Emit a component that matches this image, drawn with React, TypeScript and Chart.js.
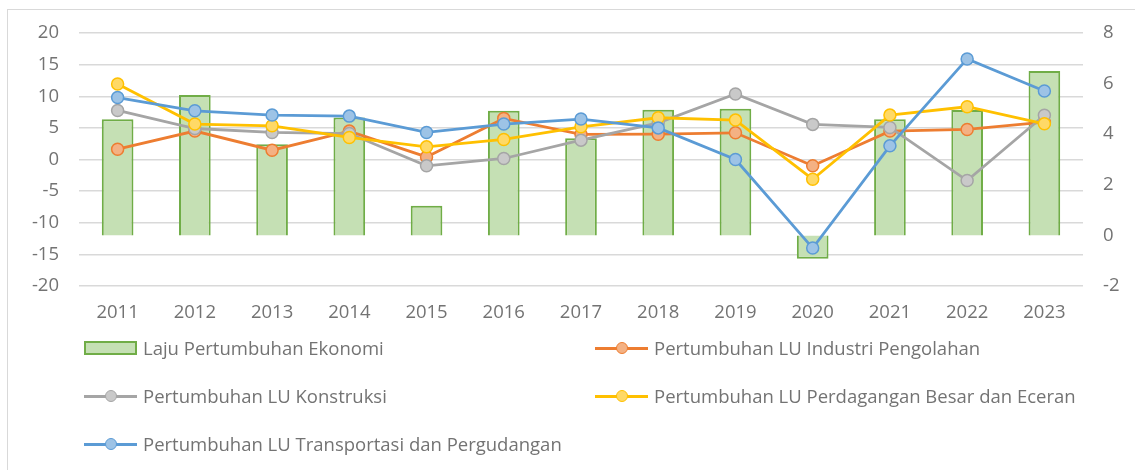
import React, { useEffect, useRef } from "react";
import { Chart, registerables } from "chart.js";

Chart.register(...registerables);

const years = ["2011", "2012", "2013", "2014", "2015", "2016", "2017", "2018", "2019", "2020", "2021", "2022", "2023"];
const ekonomi = [4.59, 5.55, 3.6, 4.66, 1.17, 4.93, 3.84, 4.97, 5.01, -0.92, 4.59, 4.96, 6.5];
const industri = [1.63, 4.5, 1.47, 4.49, 0.41, 6.5, 3.96, 4.0, 4.22, -1.0, 4.49, 4.75, 5.9];
const konstruksi = [7.76, 4.9, 4.28, 4.1, -1.0, 0.16, 3.06, 5.8, 10.35, 5.55, 5.07, -3.33, 7.0];
const perdagangan = [11.93, 5.6, 5.33, 3.49, 2.0, 3.17, 5.17, 6.6, 6.23, -3.12, 7.02, 8.34, 5.65];
const transportasi = [9.8, 7.7, 7.02, 6.86, 4.28, 5.6, 6.39, 5.0, 0.0, -14.0, 2.16, 15.9, 10.82];

const leftTicks = { min: -20, max: 20, step: 5 };
const rightTicks = { min: -2, max: 8, step: 2 };

const FONT = "'Open Sans', 'Noto Sans', sans-serif";
const TEXT = "#737373";
const FSIZE = 18.5;

type Series = { label: string; data: number[]; line: string; fill: string; kind: "bar" | "line" };

const series: Series[] = [
  { label: "Laju Pertumbuhan Ekonomi", data: ekonomi, line: "#70AD47", fill: "#C5E0B4", kind: "bar" },
  { label: "Pertumbuhan LU Industri Pengolahan", data: industri, line: "#ED7D31", fill: "#F4B183", kind: "line" },
  { label: "Pertumbuhan LU Konstruksi", data: konstruksi, line: "#A5A5A5", fill: "#C9C9C9", kind: "line" },
  { label: "Pertumbuhan LU Perdagangan Besar dan Eceran", data: perdagangan, line: "#FFC000", fill: "#FFD966", kind: "line" },
  { label: "Pertumbuhan LU Transportasi dan Pergudangan", data: transportasi, line: "#5B9BD5", fill: "#9DC3E6", kind: "line" },
];

function LegendItem({ s, left, top }: { s: Series; left: number; top: number }) {
  return (
    <div style={{ position: "absolute", left, top: top - 12, height: 24, display: "flex", alignItems: "center", whiteSpace: "nowrap" }}>
      <div style={{ position: "relative", width: 53, height: 24, marginRight: 6 }}>
        {s.kind === "bar" ? (
          <div style={{ position: "absolute", left: 0, top: 5, width: 53, height: 14, boxSizing: "border-box", background: s.fill, border: `2px solid ${s.line}` }} />
        ) : (
          <>
            <div style={{ position: "absolute", left: 0, top: 10.5, width: 53, height: 3, background: s.line }} />
            <div style={{ position: "absolute", left: 21, top: 6, width: 12, height: 12, boxSizing: "border-box", borderRadius: "50%", background: s.fill, border: `1.5px solid ${s.line}` }} />
          </>
        )}
      </div>
      <span style={{ fontFamily: FONT, fontSize: FSIZE, color: TEXT, lineHeight: "24px" }}>{s.label}</span>
    </div>
  );
}

export default function App() {
  const ref = useRef<HTMLCanvasElement | null>(null);

  useEffect(() => {
    if (!ref.current) return;
    const datasets: any[] = series.map((s, i) => {
      if (s.kind === "bar") {
        return {
          type: "bar",
          label: s.label,
          data: s.data,
          yAxisID: "y1",
          backgroundColor: s.fill,
          borderColor: s.line,
          borderWidth: 2,
          barPercentage: 0.41,
          categoryPercentage: 1,
          order: 10,
        };
      }
      return {
        type: "line",
        label: s.label,
        data: s.data,
        yAxisID: "y",
        borderColor: s.line,
        borderWidth: 2.8,
        pointRadius: 6,
        pointBorderWidth: 1.5,
        pointBackgroundColor: s.fill,
        pointBorderColor: s.line,
        tension: 0,
        order: 10 - i,
      };
    });

    const chart = new Chart(ref.current, {
      type: "bar",
      data: { labels: years, datasets },
      options: {
        animation: false,
        responsive: false,
        layout: { padding: { top: 33, bottom: 146, left: 0, right: 0 } },
        plugins: { legend: { display: false }, tooltip: { enabled: false } },
        scales: {
          x: {
            offset: true,
            grid: { display: false, drawTicks: false },
            border: { display: false },
            ticks: { color: TEXT, font: { family: FONT, size: FSIZE }, padding: 16, maxRotation: 0 },
            afterFit: (scale: any) => { scale.height = 38; },
          },
          y: {
            position: "left",
            min: leftTicks.min,
            max: leftTicks.max,
            grid: { color: "#d9d9d9", lineWidth: 1.5, drawTicks: false },
            border: { display: false },
            ticks: { stepSize: leftTicks.step, color: TEXT, font: { family: FONT, size: FSIZE }, padding: 20 },
            afterFit: (scale: any) => { scale.width = 79; },
          },
          y1: {
            position: "right",
            min: rightTicks.min,
            max: rightTicks.max,
            grid: { display: false, drawTicks: false },
            border: { display: false },
            ticks: { stepSize: rightTicks.step, color: TEXT, font: { family: FONT, size: FSIZE }, padding: 20 },
            afterFit: (scale: any) => { scale.width = 52; },
          },
        },
      },
    });
    return () => chart.destroy();
  }, []);

  const rows = [348, 396, 444];
  const cols = [84, 595];

  return (
    <div style={{ position: "absolute", left: 0, top: 0, width: 1135, height: 470, overflow: "hidden", background: "#fff" }}>
      <div style={{ position: "absolute", left: 7, top: 9, width: 1200, height: 600, border: "1.5px solid #d9d9d9" }} />
      <canvas ref={ref} width={1135} height={470} style={{ position: "absolute", left: 0, top: 0, width: 1135, height: 470 }} />
      {series.map((s, i) => (
        <LegendItem key={s.label} s={s} left={cols[i % 2]} top={rows[Math.floor(i / 2)]} />
      ))}
    </div>
  );
}
